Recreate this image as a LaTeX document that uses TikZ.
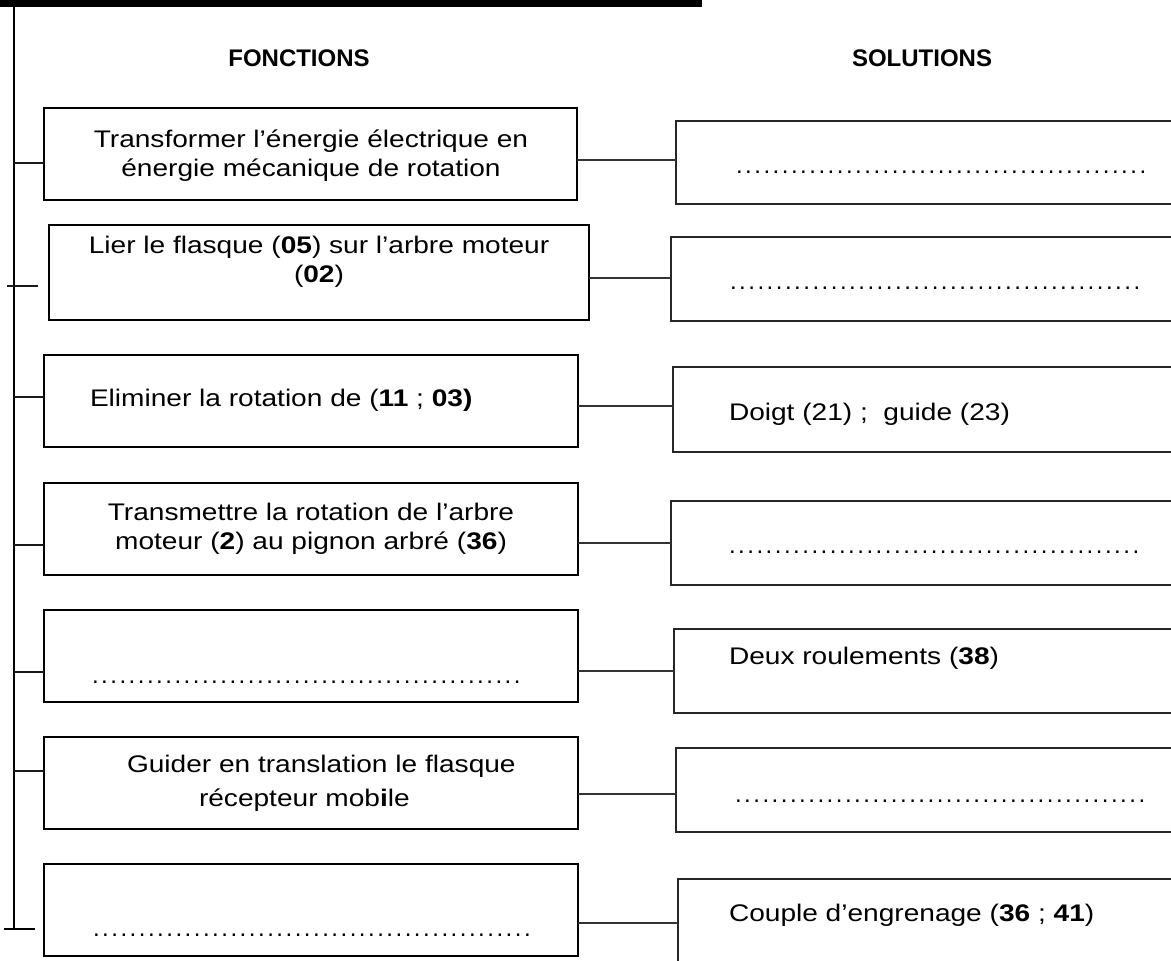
\documentclass[tikz,border=0pt]{standalone}
\usepackage{fontspec}
\setmainfont{Liberation Sans}
\usepackage{graphicx}
\newcommand{\Sx}[1]{\scalebox{1.17}[1]{#1}}
\newcommand{\Lines}[1]{\Sx{\begin{tabular}{@{}c@{}}#1\end{tabular}}}
\newcount\dotcnt
\newcommand{\Dotrow}[1]{\dotcnt=0 \loop .\kern2.5pt\advance\dotcnt 1 \ifnum\dotcnt<#1\repeat}
\begin{document}
\begin{tikzpicture}[x=1pt,y=-1pt,
  fbox/.style={draw=black, line width=2pt, rectangle, inner sep=0pt, outer sep=0pt, anchor=north west},
  sbox/.style={draw=black!85, line width=1.6pt, rectangle, inner sep=0pt, outer sep=0pt, anchor=north west},
  link/.style={draw=black!80, line width=1.5pt},
  stub/.style={draw=black!90, line width=1.6pt},
  spine/.style={draw=black, line width=2pt},
  txt/.style={inner sep=0pt, outer sep=0pt, font=\fontsize{24pt}{29pt}\selectfont},
  dots/.style={inner sep=0pt, outer sep=0pt, anchor=base west, font=\fontsize{24pt}{29pt}\selectfont},
  head/.style={inner sep=0pt, outer sep=0pt, font=\fontsize{24pt}{29pt}\selectfont\bfseries}
]
\useasboundingbox (0,0) rectangle (1171,961);
\clip (0,0) rectangle (1171,961);

% top bar and spine
\fill[black] (0,0) rectangle (702,7);
\coordinate (top) at (14,0);
\coordinate (bot) at (14,929);
\draw[spine] (top) -- (bot);

% headers
\node[head] (hF) at (299,58) {FONCTIONS};
\node[head] (hS) at (922,58) {SOLUTIONS};

% function boxes
\node[fbox, minimum width=533pt, minimum height=92pt] (f1) at (44,108) {};
\node[fbox, minimum width=540pt, minimum height=95pt] (f2) at (49,225) {};
\node[fbox, minimum width=534pt, minimum height=92pt] (f3) at (44,355) {};
\node[fbox, minimum width=534pt, minimum height=92pt] (f4) at (44,483) {};
\node[fbox, minimum width=534pt, minimum height=92pt] (f5) at (44,610) {};
\node[fbox, minimum width=534pt, minimum height=92pt] (f6) at (44,737) {};
\node[fbox, minimum width=534pt, minimum height=92pt] (f7) at (44,864) {};

% solution boxes
\node[sbox, minimum width=509pt, minimum height=83pt] (s1) at (676,121) {};
\node[sbox, minimum width=514pt, minimum height=84pt] (s2) at (671,237) {};
\node[sbox, minimum width=512pt, minimum height=85pt] (s3) at (673,367) {};
\node[sbox, minimum width=514pt, minimum height=84pt] (s4) at (671,501) {};
\node[sbox, minimum width=511pt, minimum height=84pt] (s5) at (674,629) {};
\node[sbox, minimum width=509pt, minimum height=84pt] (s6) at (676,748) {};
\node[sbox, minimum width=507pt, minimum height=96pt] (s7) at (678,879) {};

% function texts
\node[txt] (t1) at (311,156) {\Lines{Transformer l’énergie électrique en\\énergie mécanique de rotation}};
\node[txt] (t2) at (319,262) {\Lines{Lier le flasque (\textbf{05}) sur l’arbre moteur\\(\textbf{02})}};
\node[txt, anchor=west] (t3) at (90,400) {\Sx{Eliminer la rotation de (\textbf{11} ; \textbf{03)}}};
\node[txt] (t4) at (311,529) {\Lines{Transmettre la rotation de l’arbre\\moteur (\textbf{2}) au pignon arbré (\textbf{36})}};
\node[dots] (t5) at (92,683) {\Dotrow{47}};
\node[txt, anchor=west] (t6a) at (127,766) {\Sx{Guider en translation le flasque}};
\node[txt, anchor=west] (t6b) at (199,800) {\Sx{récepteur mob\textbf{i}le}};
\node[dots] (t7) at (93,936) {\Dotrow{48}};

% solution texts
\node[dots] (r1) at (736,173) {\Dotrow{45}};
\node[dots] (r2) at (730,289) {\Dotrow{45}};
\node[txt, anchor=west] (r3) at (729,414) {\Sx{Doigt (21) ;\ \ guide (23)}};
\node[dots] (r4) at (729,553) {\Dotrow{45}};
\node[txt, anchor=west] (r5) at (729,658) {\Sx{Deux roulements (\textbf{38})}};
\node[dots] (r6) at (735,802) {\Dotrow{45}};
\node[txt, anchor=west] (r7) at (729,915) {\Sx{Couple d’engrenage (\textbf{36} ; \textbf{41})}};

% levels
\coordinate (k1) at (0,163);
\coordinate (k2) at (0,286);
\coordinate (k3) at (0,397);
\coordinate (k4) at (0,545);
\coordinate (k5) at (0,672);
\coordinate (k6) at (0,771);
\coordinate (c1) at (0,160);
\coordinate (c2) at (0,278);
\coordinate (c3) at (0,406);
\coordinate (c4) at (0,543);
\coordinate (c5) at (0,671);
\coordinate (c6) at (0,794);
\coordinate (c7) at (0,923);

% stubs from spine
\draw[stub] (top |- k1) -- (f1.west |- k1);
\draw[stub] ([xshift=-7pt]top |- k2) -- ([xshift=-11pt]f2.west |- k2);
\draw[stub] (top |- k3) -- (f3.west |- k3);
\draw[stub] (top |- k4) -- (f4.west |- k4);
\draw[stub] (top |- k5) -- (f5.west |- k5);
\draw[stub] (top |- k6) -- (f6.west |- k6);
\draw[spine] ([xshift=-10pt]bot) -- ([xshift=21pt]bot);

% connectors
\draw[link] (f1.east |- c1) -- (s1.west |- c1);
\draw[link] (f2.east |- c2) -- (s2.west |- c2);
\draw[link] (f3.east |- c3) -- (s3.west |- c3);
\draw[link] (f4.east |- c4) -- (s4.west |- c4);
\draw[link] (f5.east |- c5) -- (s5.west |- c5);
\draw[link] (f6.east |- c6) -- (s6.west |- c6);
\draw[link] (f7.east |- c7) -- (s7.west |- c7);
\end{tikzpicture}
\end{document}
